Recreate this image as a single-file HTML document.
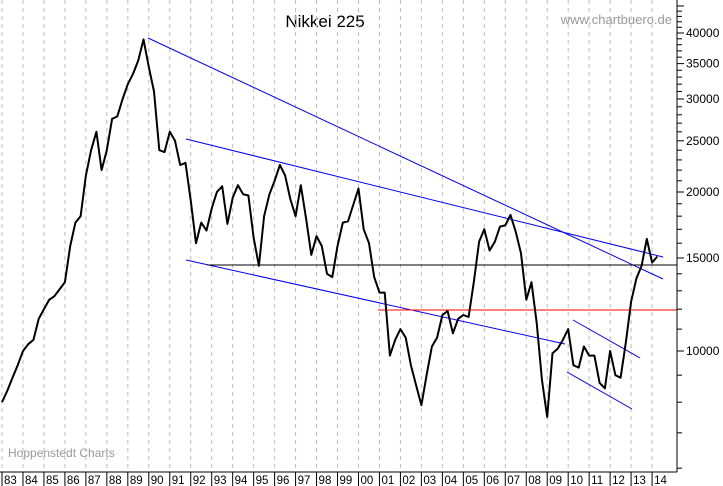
<!DOCTYPE html>
<html><head><meta charset="utf-8"><style>
body{margin:0;background:#fff;}
svg{display:block;font-family:"Liberation Sans",sans-serif;}
</style></head><body>
<svg id="c" width="723" height="486">
<rect x="0" y="0" width="723" height="486" fill="#fff"/>
<text x="325" y="27" font-size="17" text-anchor="middle" fill="#000">Nikkei 225</text>
<text x="672" y="24" font-size="13" text-anchor="end" fill="#999">www.chartbuero.de</text>
<text x="8" y="457" font-size="12" fill="#999">Hoppenstedt Charts</text>
<g id="grid"></g><g id="lines"></g><g id="series"></g><g id="axes"></g>
</svg>
<script>
const years=["83","84","85","86","87","88","89","90","91","92","93","94","95","96","97","98","99","00","01","02","03","04","05","06","07","08","09","10","11","12","13","14"];
const yTicks=[10000,15000,20000,25000,30000,35000,40000];
const values=[8000,8400,8900,9400,10000,10300,10500,11500,12000,12500,12700,13100,13500,15800,17500,18000,21500,24000,26000,22000,24000,27500,27800,30000,32000,33500,35500,38900,34500,31000,24000,23800,26000,25000,22500,22700,19300,16000,17500,16900,18600,20000,20500,17400,19500,20600,19800,19700,16400,14500,18000,19800,21000,22500,21500,19400,18000,20600,17800,15200,16500,15800,14000,13800,15800,17500,17600,18900,20300,17000,16000,13800,12900,12900,9800,10500,11000,10600,9400,8600,7900,9000,10200,10600,11700,11900,10800,11500,11700,11600,13500,16100,17000,15500,16100,17200,17300,18100,16800,15300,12500,13500,11300,8800,7500,9900,10100,10500,11000,9400,9300,10200,9800,9800,8700,8500,10000,9000,8900,10400,12400,13700,14500,16300,14700,15100];
const NS="http://www.w3.org/2000/svg";
function xs(t){return 2+t*20.97;}
function ys(v){return 351-229.4*Math.log(v/10000);}
function mk(tag,attrs,parent){const e=document.createElementNS(NS,tag);for(const k in attrs)e.setAttribute(k,attrs[k]);document.getElementById(parent).appendChild(e);return e;}
const AX=677,AY=472;
years.forEach((y,i)=>{
  const x=xs(i);
  const g=mk('line',{x1:x,y1:0,x2:x,y2:AY,stroke:'#bbb','stroke-dasharray':'4,4'},'grid');
  
  
  const t=mk('line',{x1:x,y1:AY,x2:x,y2:486,stroke:'#000'},'axes');
  
  
  const l=mk('text',{x:x+2,y:484,'font-size':11.5,fill:'#000'},'axes');
  l.textContent=y;
  
  
});
[[148,38,663,279,'blue'],[186,139,663,257,'blue'],[186,260,565,344,'blue'],[573,320,640,358,'blue'],[567,372,632,409,'blue'],[207,265,677,265,'#000'],[378,310,677,310,'red']].forEach(a=>{
  const l=mk('line',{x1:a[0],y1:a[1],x2:a[2],y2:a[3],stroke:a[4],'stroke-width':1},'lines');
  
  
});
let d='';
values.forEach((v,i)=>{d+=(i?'L':'M')+xs(i/4).toFixed(1)+','+ys(v).toFixed(1);});
const p=mk('path',{d:d,fill:'none',stroke:'#000','stroke-width':2,'stroke-linejoin':'round'},'series');


const ax=mk('line',{x1:0,y1:AY,x2:AX,y2:AY,stroke:'#000'},'axes');


const ay=mk('line',{x1:AX,y1:0,x2:AX,y2:AY,stroke:'#000'},'axes');


for(let v=5000;v<=45000;v+=1000){
  const y=ys(v);if(y>AY)continue;
  const major=v%5000===0;
  const t=mk('line',{x1:AX,y1:y,x2:AX+(major?7:5),y2:y,stroke:'#000'},'axes');
  
  
}
yTicks.forEach(v=>{
  const t=mk('text',{x:686,y:ys(v)+4,'font-size':12,fill:'#000'},'axes');
  t.textContent=v;
  
  
});
</script>
</body></html>
